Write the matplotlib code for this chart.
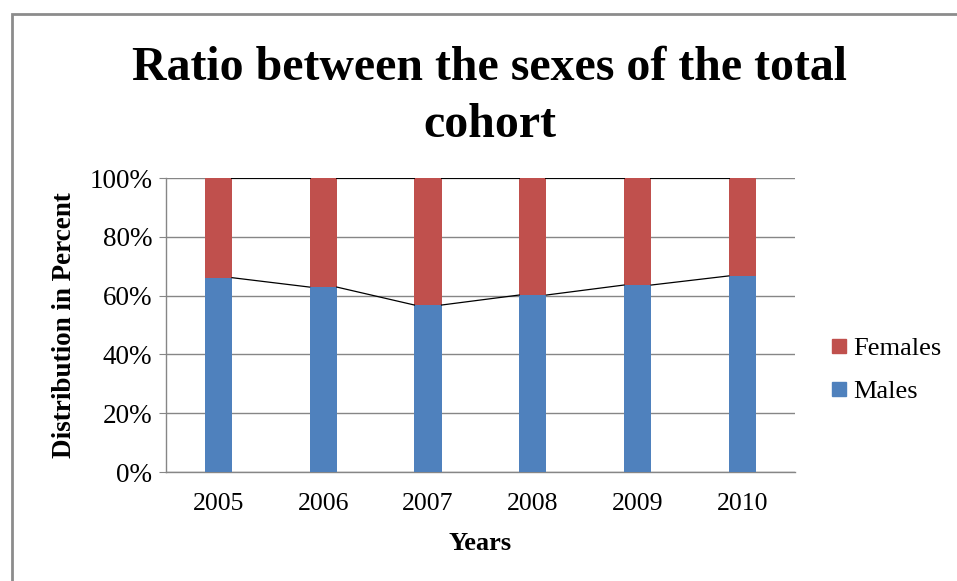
import matplotlib.pyplot as plt
from matplotlib.patches import Rectangle
from matplotlib.lines import Line2D

plt.rcParams['font.family'] = ['Liberation Serif', 'DejaVu Serif']

# Share of each sex per year (percent)
years = ['2005', '2006', '2007', '2008', '2009', '2010']
males = [66.1, 62.9, 56.8, 60.2, 63.6, 66.7]
females = [33.9, 37.1, 43.2, 39.8, 36.4, 33.3]
yticks = [0, 20, 40, 60, 80, 100]

blue = '#4F81BD'
red = '#C0504D'
grid_col = '#868686'

fig = plt.figure(figsize=(9.57, 5.81), dpi=100)
ax = fig.add_axes([0.1735, 0.1876, 0.657, 0.506])

# normalise each year to 100%
tot = [m + f for m, f in zip(males, females)]
m_pct = [m / t * 100 for m, t in zip(males, tot)]
f_pct = [f / t * 100 for f, t in zip(females, tot)]

x = list(range(len(years)))
w = 0.26
ax.bar(x, m_pct, width=w, color=blue, zorder=3, label='Males')
ax.bar(x, f_pct, width=w, bottom=m_pct, color=red, zorder=3, label='Females')

# series lines between the bars
for i in range(len(x) - 1):
    ax.plot([x[i] + w / 2, x[i + 1] - w / 2], [m_pct[i], m_pct[i + 1]],
            color='black', lw=0.9, zorder=4)
    ax.plot([x[i] + w / 2, x[i + 1] - w / 2], [100, 100],
            color='black', lw=1.4, zorder=4)

ax.set_xlim(-0.5, len(years) - 0.5)
ax.set_ylim(0, 100)
ax.set_yticks(yticks)
ax.set_yticklabels([f'{v}%' for v in yticks])
ax.set_xticks(x)
ax.set_xticklabels(years)
ax.yaxis.grid(True, color=grid_col, lw=1.0, zorder=0)
ax.set_axisbelow(True)

for side in ['top', 'right']:
    ax.spines[side].set_visible(False)
for side in ['left', 'bottom']:
    ax.spines[side].set_color(grid_col)
    ax.spines[side].set_linewidth(1.0)

ax.tick_params(axis='y', direction='out', length=5, color=grid_col,
               labelsize=19.5, pad=5)
ax.tick_params(axis='x', length=0, labelsize=18.5, pad=15)

ax.set_xlabel('Years', fontsize=19, fontweight='bold', labelpad=12)
ax.set_ylabel('Distribution in Percent', fontsize=19.5, fontweight='bold',
              labelpad=9)

# two-line chart title
fig.text(0.512, 1 - 80 / 581, 'Ratio between the sexes of the total',
         ha='center', va='baseline', fontsize=34.5, fontweight='bold')
fig.text(0.512, 1 - 137 / 581, 'cohort',
         ha='center', va='baseline', fontsize=34.5, fontweight='bold')

handles = [Line2D([], [], marker='s', ls='none', color=red, markersize=10),
           Line2D([], [], marker='s', ls='none', color=blue, markersize=10)]
fig.legend(handles, ['Females', 'Males'], loc='center left',
           bbox_to_anchor=(0.852, 0.363), frameon=False, fontsize=19,
           handlelength=0.8, handletextpad=0.15, labelspacing=0.75,
           borderpad=0.0)

# outer chart border
fig.patches.append(Rectangle((12 / 957, -0.05), 1.1, 1 - 14 / 581 + 0.05,
                             transform=fig.transFigure, fill=False,
                             edgecolor='#8c8c8c', lw=2.0))

fig.savefig('out.png', dpi=100)
